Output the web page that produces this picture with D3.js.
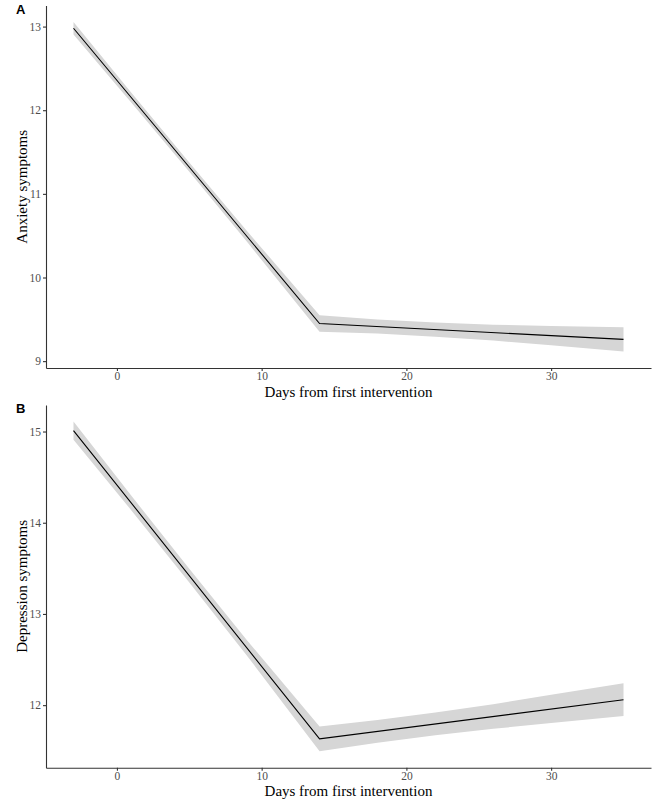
<!DOCTYPE html>
<html>
<head>
<meta charset="utf-8">
<script src="https://cdn.jsdelivr.net/npm/d3@7"></script>
<style>
  html, body { margin: 0; padding: 0; background: #fff; }
  svg { display: block; }
</style>
</head>
<body>
<svg id="chart" width="666" height="799"></svg>
<script>
// ---- data ----
const lineDays = [-3, 14, 35];
const anxietyFit = [12.98, 9.45, 9.26];
const depressionFit = [15.01, 11.63, 12.06];

const bandDays = [-3, 1, 5, 9, 14, 18, 22, 26, 30, 35];
const anxietyLower = [12.905, 12.089, 11.264, 10.423, 9.35, 9.329, 9.293, 9.246, 9.19, 9.115];
const anxietyUpper = [13.055, 12.209, 11.374, 10.553, 9.55, 9.499, 9.463, 9.436, 9.42, 9.405];
const depressionLower = [14.91, 14.135, 13.345, 12.539, 11.495, 11.587, 11.67, 11.741, 11.803, 11.88];
const depressionUpper = [15.11, 14.295, 13.495, 12.709, 11.765, 11.837, 11.92, 12.011, 12.113, 12.24];

const xTicks = [0, 10, 20, 30];
const anxietyTicks = [9, 10, 11, 12, 13];
const depressionTicks = [12, 13, 14, 15];

const panels = [
  { tag: "A", ylabel: "Anxiety symptoms", fit: anxietyFit, lower: anxietyLower, upper: anxietyUpper, ticks: anxietyTicks, top: 5.5, bottom: 368 },
  { tag: "B", ylabel: "Depression symptoms", fit: depressionFit, lower: depressionLower, upper: depressionUpper, ticks: depressionTicks, top: 405, bottom: 767.7 }
];

const svg = d3.select("#chart");
const left = 46, right = 651;
const serif = "'Liberation Serif', 'Times New Roman', serif";

panels.forEach(p => {
  const xd = [-3 - 38 * 0.05, 35 + 38 * 0.05];
  const x = d3.scaleLinear().domain(xd).range([left, right]);
  const ymin = d3.min(p.lower), ymax = d3.max(p.upper);
  const pad = (ymax - ymin) * 0.05;
  const y = d3.scaleLinear().domain([ymin - pad, ymax + pad]).range([p.bottom, p.top]);

  const g = svg.append("g");

  const band = bandDays.map((d, i) => ({ d, lo: p.lower[i], hi: p.upper[i] }));
  g.append("path")
    .datum(band)
    .attr("fill", "#d6d6d6")
    .attr("d", d3.area().x(v => x(v.d)).y0(v => y(v.lo)).y1(v => y(v.hi)));

  const pts = lineDays.map((d, i) => ({ d, v: p.fit[i] }));
  g.append("path")
    .datum(pts)
    .attr("fill", "none")
    .attr("stroke", "#000")
    .attr("stroke-width", 1.1)
    .attr("d", d3.line().x(v => x(v.d)).y(v => y(v.v)));

  const xAxis = g.append("g")
    .attr("transform", `translate(0,${p.bottom})`)
    .call(d3.axisBottom(x).tickValues(xTicks).tickFormat(d3.format("d")).tickSize(3).tickPadding(1).tickSizeOuter(0));
  const yAxis = g.append("g")
    .attr("transform", `translate(${left},0)`)
    .call(d3.axisLeft(y).tickValues(p.ticks).tickFormat(d3.format("d")).tickSize(3).tickPadding(2).tickSizeOuter(0));

  [xAxis, yAxis].forEach(a => {
    a.attr("font-family", serif).attr("font-size", 11.5);
    a.select(".domain").attr("stroke", "#333").attr("stroke-width", 1.1);
    a.selectAll(".tick line").attr("stroke", "#333").attr("stroke-width", 1.1);
    a.selectAll(".tick text")
      .attr("fill", "#4d4d4d")
      .style("font-family", serif)
      .style("font-size", "11.5px");
  });

  g.append("text")
    .attr("x", (left + right) / 2)
    .attr("y", p.bottom + 28.5)
    .attr("text-anchor", "middle")
    .style("font-family", serif)
    .style("font-size", "15px")
    .attr("fill", "#000")
    .text("Days from first intervention");

  g.append("text")
    .attr("transform", `translate(27,${(p.top + p.bottom) / 2}) rotate(-90)`)
    .attr("text-anchor", "middle")
    .style("font-family", serif)
    .style("font-size", "15px")
    .attr("fill", "#000")
    .text(p.ylabel);

  g.append("text")
    .attr("x", 16)
    .attr("y", p.top + 8)
    .style("font-family", "'Liberation Sans', Arial, sans-serif")
    .style("font-size", "13px")
    .style("font-weight", "bold")
    .attr("fill", "#000")
    .text(p.tag);
});
</script>
</body>
</html>
